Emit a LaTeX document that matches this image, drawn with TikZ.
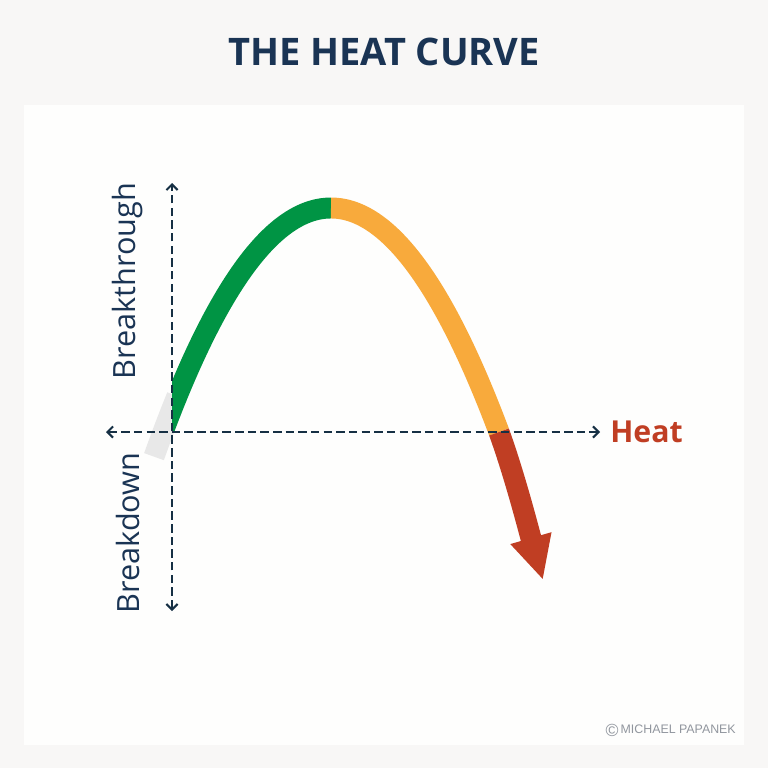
\documentclass[tikz,border=0pt]{standalone}
\usepackage{fontspec}
\setmainfont{Open Sans}
\newfontfamily\creditfont{Liberation Sans}
\usetikzlibrary{arrows.meta}

\definecolor{pagegray}{RGB}{248,247,246}
\definecolor{panelwhite}{RGB}{254,254,253}
\definecolor{navy}{RGB}{26,52,84}
\definecolor{axisnavy}{RGB}{22,48,68}
\definecolor{heatgreen}{RGB}{0,148,68}
\definecolor{heatorange}{RGB}{248,170,60}
\definecolor{heatred}{RGB}{192,62,35}
\definecolor{fadegray}{RGB}{232,232,232}
\definecolor{creditgray}{RGB}{145,150,158}

\tikzset{
    band/.style={line width=14.9pt, line cap=butt},
    axis/.style={draw=axisnavy, line width=1.5pt, dash pattern=on 6pt off 3pt,
        {Straight Barb[length=4pt,width=8pt,line width=1.5pt]}-{Straight Barb[length=4pt,width=8pt,line width=1.5pt]}},
    axislabel/.style={text=navy, font=\fontsize{21.8}{24}\selectfont, rotate=90},
}

\begin{document}
\begin{tikzpicture}[x=0.025cm,y=-0.025cm]
    \def\peakx{331}
    \def\peaky{208}
    \def\halfw{168}
    \def\depth{224}

    % Draw the page and the panel
    \useasboundingbox (0,0) rectangle (768,768);
    \fill[pagegray] (0,0) rectangle (768,768);
    \fill[panelwhite] (24,105) rectangle (744,745);

    \node[text=navy, font=\bfseries\fontsize{27}{32}\selectfont] (title) at (384,52) {THE HEAT CURVE};

    % Axis end points
    \coordinate (origin) at (172,432);
    \coordinate (xleft) at (106,432);
    \coordinate (xright) at (600,432);
    \coordinate (ytop) at (172,183);
    \coordinate (ybottom) at (172,611);

    % Draw the curve, one colour at a time
    \draw[band, fadegray] plot[domain=154:177, samples=10] (\x, {\peaky+\depth*((\x-\peakx)/\halfw)^2});
    \begin{scope}
        \clip (origin) rectangle (768,0);
        \draw[band, heatgreen] plot[domain=158:\peakx, samples=60] (\x, {\peaky+\depth*((\x-\peakx)/\halfw)^2});
    \end{scope}
    \draw[band, heatorange] plot[domain=\peakx:499, samples=60] (\x, {\peaky+\depth*((\x-\peakx)/\halfw)^2});

    \coordinate (cross) at (499,432);
    \coordinate (tip) at (543,580);
    \draw[band, heatred, -{Triangle[length=31pt,width=28pt]}] (cross) .. controls (515,476) and (530,535) .. (tip);

    % Draw the axes
    \draw[axis] (xleft) -- (xright);
    \draw[axis] (ybottom) -- (ytop);

    \node[anchor=west, inner sep=0pt, text=heatred, font=\bfseries\fontsize{21.5}{24}\selectfont] (heat) at (610,432) {Heat};
    \node[axislabel] (up) at (128,281) {Breakthrough};
    \node[axislabel] (down) at (128,533) {Breakdown};

    \node[anchor=east, inner sep=0pt, text=creditgray, font=\creditfont\fontsize{8.8}{10}\selectfont] (credit) at (736,730) {\raisebox{-0.22em}{\fontsize{12.5}{10}\selectfont\copyright}\kern1.5pt MICHAEL PAPANEK};
\end{tikzpicture}
\end{document}
